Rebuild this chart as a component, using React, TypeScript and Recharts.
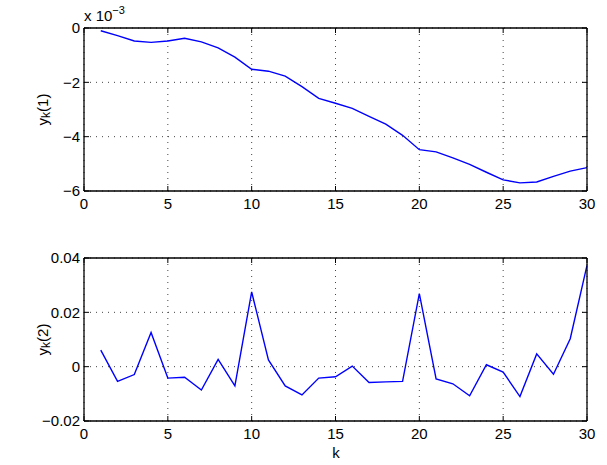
import React from "react";
import { LineChart, Line, XAxis, YAxis, CartesianGrid } from "recharts";

// k index
const kValues = [1,2,3,4,5,6,7,8,9,10,11,12,13,14,15,16,17,18,19,20,21,22,23,24,25,26,27,28,29,30];
// y_k(1), in units of 10^-3
const y1Values = [-0.10,-0.28,-0.48,-0.53,-0.48,-0.38,-0.51,-0.73,-1.07,-1.52,-1.59,-1.77,-2.16,-2.59,-2.77,-2.96,-3.25,-3.54,-3.95,-4.48,-4.56,-4.78,-5.02,-5.31,-5.59,-5.70,-5.67,-5.46,-5.27,-5.14];
// y_k(2)
const y2Values = [0.0061,-0.0054,-0.0029,0.0126,-0.0042,-0.0039,-0.0086,0.0027,-0.0071,0.0275,0.0025,-0.0071,-0.0104,-0.0042,-0.0037,0.0002,-0.0058,-0.0056,-0.0054,0.0269,-0.0045,-0.0063,-0.0107,0.0007,-0.0020,-0.0110,0.0047,-0.0028,0.0103,0.0373];

const xTicks = [0, 5, 10, 15, 20, 25, 30];
const y1Ticks = [-6, -4, -2, 0];
const y2Ticks = [-0.02, 0, 0.02, 0.04];

const data1 = kValues.map((k, i) => ({ k, v: y1Values[i] }));
const data2 = kValues.map((k, i) => ({ k, v: y2Values[i] }));

const FONT = "'Liberation Sans', Arial, Helvetica, sans-serif";
const tickStyle = { fontSize: 15, fill: "#000", fontFamily: FONT };
const minus = (s: string) => s.replace("-", "\u2212");
const fmt1 = (v: number) => minus(String(v));
const fmt2 = (v: number) => (v === 0 ? "0" : minus(v.toFixed(2)));
const blank = () => "";

const YLabel = (props: any) => {
  const vb = props.viewBox || {};
  const cx = 42;
  const cy = vb.y + vb.height / 2;
  return (
    <text
      x={cx}
      y={cy}
      transform={`rotate(-90 ${cx} ${cy})`}
      textAnchor="middle"
      dominantBaseline="central"
      fontSize={15}
      fontFamily={FONT}
      fill="#000"
    >
      y<tspan dy={4} fontSize={12}>k</tspan>
      <tspan dy={-4}>({props.idx})</tspan>
    </text>
  );
};

const ScaleLabel = () => (
  <text x={84} y={21} fontSize={15} fontFamily={FONT} fill="#000">
    x 10<tspan dy={-7} fontSize={11}>{"\u22123"}</tspan>
  </text>
);

const KLabel = () => (
  <text x={336} y={222} fontSize={15} fontFamily={FONT} fill="#000" textAnchor="middle" dominantBaseline="central">
    k
  </text>
);

const axisLine = { stroke: "#000", strokeWidth: 1.3 };
const tickLine = { stroke: "#000", strokeWidth: 1 };

function Panel(props: {
  data: any[];
  height: number;
  bottom: number;
  yDomain: number[];
  yTicks: number[];
  fmt: (v: number) => string;
  idx: number;
  top?: boolean;
  last?: boolean;
}) {
  const { data, height, bottom, yDomain, yTicks, fmt, idx, top, last } = props;
  return (
    <LineChart
      width={607}
      height={height}
      data={data}
      margin={{ top: 27, right: 19, bottom, left: 0 }}
    >
      <CartesianGrid stroke="#444" strokeDasharray="1 5" />
      <XAxis
        dataKey="k"
        type="number"
        domain={[0, 30]}
        ticks={xTicks}
        height={24}
        tickSize={-5}
        tickMargin={12}
        tick={tickStyle}
        axisLine={axisLine}
        tickLine={tickLine}
        interval={0}
        label={last ? { content: () => <KLabel /> } : undefined}
      />
      <XAxis
        xAxisId="t"
        orientation="top"
        type="number"
        dataKey="k"
        domain={[0, 30]}
        ticks={xTicks}
        height={1}
        tickSize={-5}
        tickFormatter={blank}
        tick={tickStyle}
        axisLine={axisLine}
        tickLine={tickLine}
        interval={0}
        allowDataOverflow
        label={top ? { content: () => <ScaleLabel /> } : undefined}
      />
      <YAxis
        type="number"
        domain={yDomain}
        ticks={yTicks}
        width={84}
        tickSize={-5}
        tickMargin={9}
        tick={tickStyle}
        tickFormatter={fmt}
        axisLine={axisLine}
        tickLine={tickLine}
        interval={0}
        allowDataOverflow
        label={{ content: (p: any) => <YLabel {...p} idx={idx} /> }}
      />
      <YAxis
        yAxisId="r"
        orientation="right"
        type="number"
        domain={yDomain}
        ticks={yTicks}
        width={1}
        tickSize={-5}
        tickFormatter={blank}
        tick={tickStyle}
        axisLine={axisLine}
        tickLine={tickLine}
        interval={0}
        allowDataOverflow
      />
      <Line
        type="linear"
        dataKey="v"
        stroke="#0000ff"
        strokeWidth={1.4}
        dot={false}
        isAnimationActive={false}
      />
    </LineChart>
  );
}

export default function App() {
  return (
    <div style={{ position: "absolute", left: 0, top: 0, width: 607, height: 465, background: "#fff" }}>
      <div style={{ position: "absolute", left: 0, top: 0 }}>
        <Panel data={data1} height={215} bottom={0} yDomain={[-6, 0]} yTicks={y1Ticks} fmt={fmt1} idx={1} top />
      </div>
      <div style={{ position: "absolute", left: 0, top: 230 }}>
        <Panel data={data2} height={235} bottom={20} yDomain={[-0.02, 0.04]} yTicks={y2Ticks} fmt={fmt2} idx={2} last />
      </div>
    </div>
  );
}
